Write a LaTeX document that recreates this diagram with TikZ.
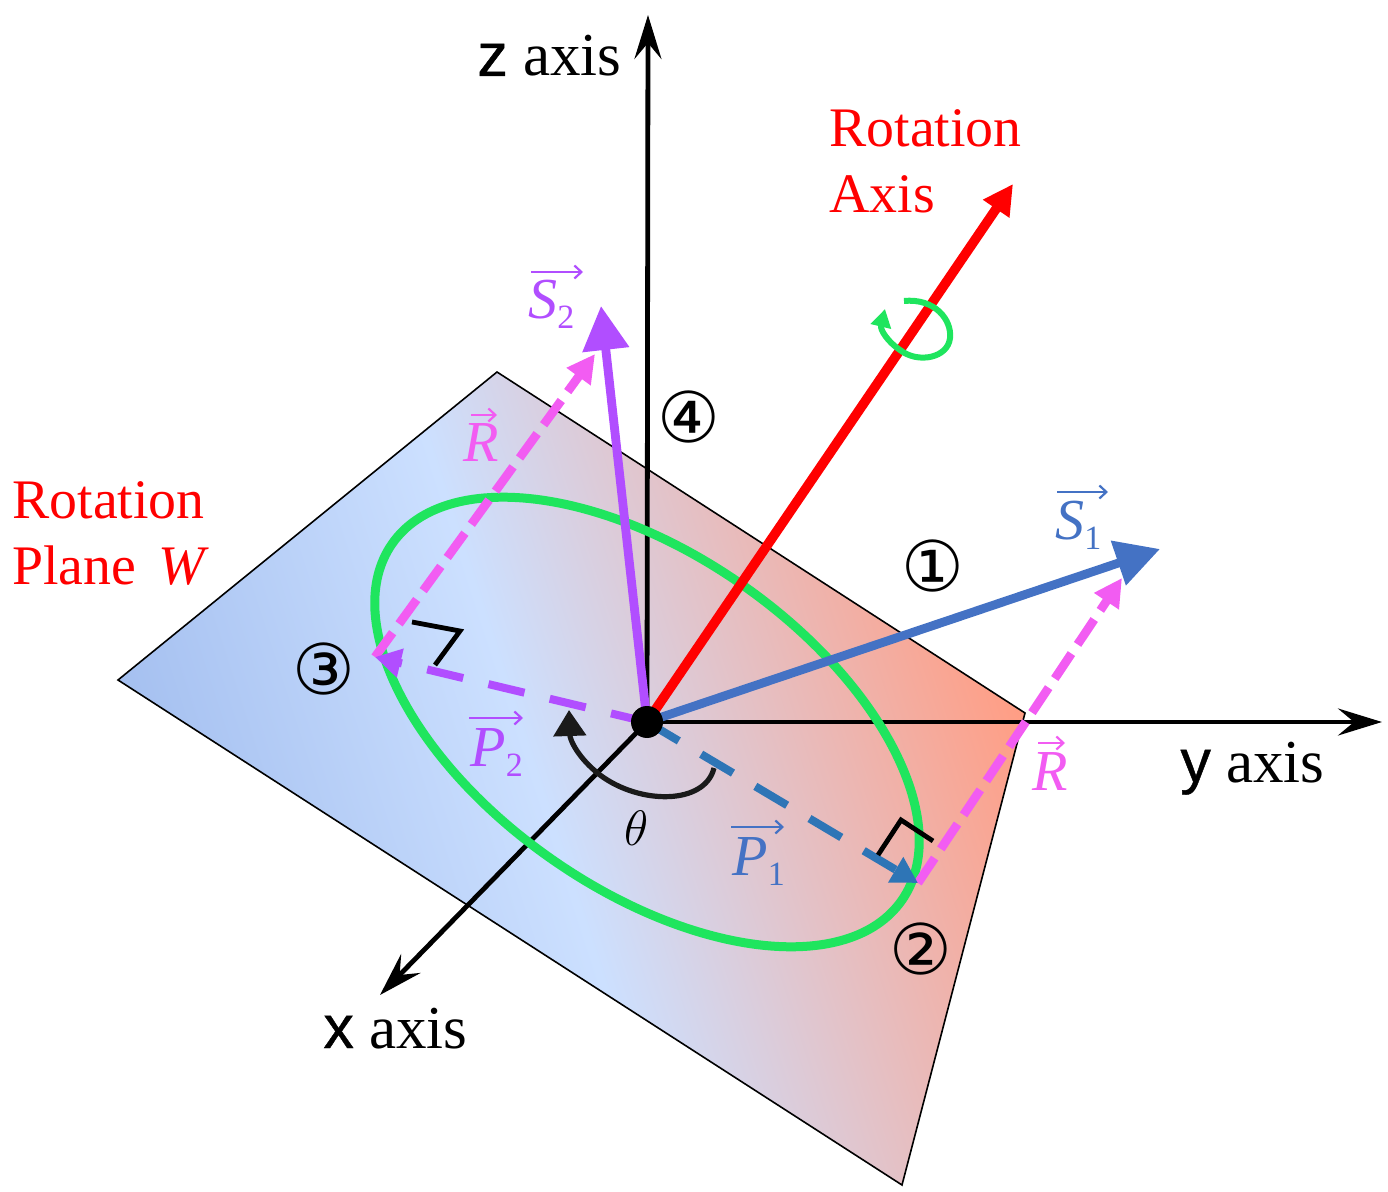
\documentclass[tikz,border=0pt]{standalone}
\usepackage{fontspec}
\setmainfont{Liberation Serif}
\newfontfamily\circfont{DejaVu Sans}
\newfontfamily\letterfont[FakeBold=0.7]{Liberation Sans}
\usetikzlibrary{arrows.meta}
\definecolor{cred}{HTML}{FF0000}
\definecolor{cgreen}{HTML}{1FE55E}
\definecolor{cblue}{HTML}{4472C4}
\definecolor{cdblue}{HTML}{2E75B6}
\definecolor{cpurple}{HTML}{B14EFF}
\definecolor{cmag}{HTML}{F25CF2}
\definecolor{ctheta}{HTML}{1A1A1A}
\definecolor{pA}{HTML}{A5C0F0}
\definecolor{pB}{HTML}{CCE0FF}
\definecolor{pC}{HTML}{FF9E85}
\pgfdeclarehorizontalshading{planeshade}{100bp}{color(0bp)=(pA); color(28.9bp)=(pA); color(47.2bp)=(pB); color(71.1bp)=(pC); color(100bp)=(pC)}
\newcommand{\vlab}[2]{\itshape #1\raisebox{-5pt}{\fontsize{17}{18}\selectfont\upshape #2}}
\tikzset{
  axisline/.style={line width=2.4pt,-{Stealth[length=22pt,width=13.5pt,inset=8pt]}},
  bigvec/.style={line width=4.4pt,-{Triangle[length=22pt,width=22.5pt]}},
  magdash/.style={cmag,line width=4.4pt,dash pattern=on 15pt off 5.5pt,-{Triangle[length=14pt,width=14pt]}},
  pdash/.style={line width=4pt,dash pattern=on 18.5pt off 13pt},
  rightmark/.style={line width=2.4pt,miter limit=10},
  axistext/.style={font=\fontsize{30.5}{34}\selectfont,text=black,inner sep=0pt,anchor=base west},
  redtext/.style={font=\fontsize{27.9}{30}\selectfont,text=cred,inner sep=0pt,anchor=west},
  veclabel/.style={font=\fontsize{29}{32}\selectfont,inner sep=0pt,anchor=base west},
  vecarrow/.style={line width=1.1pt,-{Straight Barb[length=3.5pt,width=6.5pt]}},
  circnum/.style={font=\fontsize{35}{37}\selectfont\circfont,inner sep=0pt,text=black},
}
\begin{document}
\begin{tikzpicture}[x=0.5pt,y=-0.5pt]
\useasboundingbox (0,0) rectangle (1388,1192);
% named points
\coordinate (ptop) at (497,372);
\coordinate (pright) at (1025,713);
\coordinate (pbottom) at (902,1185);
\coordinate (pleft) at (118,680);
\coordinate (zend) at (648,15);
\coordinate (yend) at (1382,722);
\coordinate (xend) at (380,995);
\coordinate (redend) at (1013,184);
\coordinate (s1end) at (1160,549);
\coordinate (s2end) at (601,306);
\coordinate (p1end) at (918,883);
\coordinate (p2end) at (375,657);
\coordinate (r1end) at (1122,578);
\coordinate (r2end) at (595,354);
\coordinate (o) at (647,722);
% plane
\begin{scope}
\clip (ptop) -- (pright) -- (pbottom) -- (pleft) -- cycle;
\shade[shading=planeshade,shading angle=18] (70,200) rectangle (1070,1200);
\end{scope}
\draw[line width=0.8pt,line join=miter] (ptop) -- (pright) -- (pbottom) -- (pleft) -- cycle;
% axes
\draw[axisline] (o) -- (zend);
\draw[axisline] (o) -- (yend);
\draw[axisline] (o) -- (xend);
% ellipse
\draw[cgreen,line width=4.5pt,rotate around={-35:(o)}] (o) ellipse (311 and 167);
% red axis
\draw[cred,line width=4.8pt,-{Triangle[length=15pt,width=15pt]}] (o) -- (redend);
% rotation mark
\coordinate (ga) at (904,301);
\coordinate (gb) at (885,309);
\draw[cgreen,line width=3pt,-{Triangle[length=9pt,width=10pt]}] (ga) .. controls (935,298) and (952,320) .. (950,338) .. controls (948,358) and (918,364) .. (900,350) .. controls (888,342) and (880,330) .. (gb);
% R dashes
\draw[magdash] (p1end) -- (r1end);
\draw[magdash] (p2end) -- (r2end);
% vectors
\draw[bigvec,cblue] (o) -- (s1end);
\draw[bigvec,cpurple] (o) -- (s2end);
\draw[pdash,cdblue,-{Triangle[length=13pt,width=14pt]}] (o) -- (p1end);
\draw[pdash,cpurple,-{Triangle[length=13pt,width=14pt]}] (o) -- (p2end);
% right angles
\coordinate (ra1) at (878,855); \coordinate (ra2) at (901,820); \coordinate (ra3) at (933,841);
\coordinate (rb1) at (412,622); \coordinate (rb2) at (460,631); \coordinate (rb3) at (435,665);
\draw[rightmark] (ra1) -- (ra2) -- (ra3);
\draw[rightmark] (rb1) -- (rb2) -- (rb3);
% theta arc
\coordinate (ta) at (714,768);
\coordinate (tb) at (569,710);
\draw[ctheta,line width=2.6pt,-{Triangle[length=13pt,width=16pt]}] (ta) .. controls (705,805) and (640,805) .. (600,775) .. controls (578,758) and (570,740) .. (tb);
% origin dot
\node[circle,fill=black,minimum size=16pt,inner sep=0pt] (dot) at (o) {};
% labels
\node[axistext] (zlab) at (477,76) {{\letterfont z} axis};
\node[axistext] (ylab) at (1180,782) {{\letterfont y} axis};
\node[axistext] (xlab) at (323,1048) {{\letterfont x} axis};
\node[redtext] (ra) at (829,128) {Rotation};
\node[redtext] (rb) at (829,194) {Axis};
\node[redtext] (rc) at (12,500) {Rotation};
\node[redtext] (rd) at (12,566) {Plane\hspace{11pt}\textit{W}};
\node[veclabel,text=cblue] (s1) at (1055,540) {\vlab{S}{1}};
\node[veclabel,text=cpurple] (s2) at (528,319) {\vlab{S}{2}};
\node[veclabel,text=cblue] (p1) at (732,875) {\vlab{P}{1}};
\node[veclabel,text=cpurple] (p2) at (470,766) {\vlab{P}{2}};
\node[veclabel,text=cmag] (r1) at (1032,790) {\vlab{R}{}};
\node[veclabel,text=cmag] (r2) at (463,462) {\vlab{R}{}};
% vector arrows over the letters
\coordinate (s1a) at (1057,492); \coordinate (s1b) at (1108,492);
\coordinate (s2a) at (531,272); \coordinate (s2b) at (583,272);
\coordinate (p1a) at (731,827); \coordinate (p1b) at (784,827);
\coordinate (p2a) at (469,718); \coordinate (p2b) at (523,718);
\coordinate (r1a) at (1038,743); \coordinate (r1b) at (1065,743);
\coordinate (r2a) at (471,415); \coordinate (r2b) at (497,415);
\draw[vecarrow,cblue] (s1a) -- (s1b);
\draw[vecarrow,cpurple] (s2a) -- (s2b);
\draw[vecarrow,cblue] (p1a) -- (p1b);
\draw[vecarrow,cpurple] (p2a) -- (p2b);
\draw[vecarrow,cmag] (r1a) -- (r1b);
\draw[vecarrow,cmag] (r2a) -- (r2b);
\node[font=\fontsize{28}{30}\selectfont,inner sep=0pt,text=black] (th) at (637,828) {$\theta$};
\node[circnum] (n1) at (933,566) {①};
\node[circnum] (n2) at (921,949) {②};
\node[circnum] (n3) at (324,669) {③};
\node[circnum] (n4) at (689,417) {④};
\end{tikzpicture}
\end{document}
